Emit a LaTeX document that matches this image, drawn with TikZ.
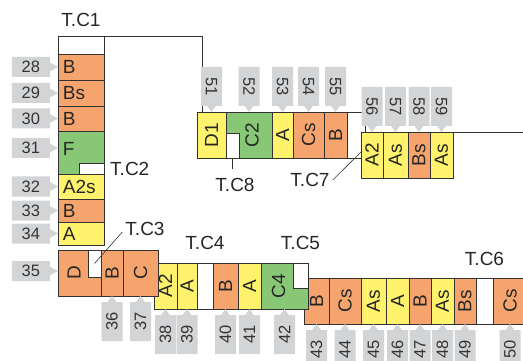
\documentclass[tikz,border=0pt]{standalone}
\usepackage{fontspec}
\setmainfont{Liberation Sans}
\usetikzlibrary{positioning, shapes.callouts}

\definecolor{cellor}{RGB}{245,164,110}
\definecolor{cellye}{RGB}{255,242,108}
\definecolor{cellgr}{RGB}{136,199,118}
\definecolor{taggray}{RGB}{211,212,214}
\definecolor{edge}{RGB}{50,50,50}

\newcommand{\up}[1]{\rotatebox{90}{#1}}
\newcommand{\dn}[1]{\rotatebox{-90}{#1}}

\begin{document}
\begin{tikzpicture}[x=1pt, y=-1pt,
	box/.style={draw=edge, line width=0.8pt, inner sep=0pt, outer sep=0pt, minimum height=46pt, text=black!85, font=\fontsize{19}{22}\selectfont},
	lbox/.style={box, minimum width=46pt, text width=36pt, inner xsep=5pt, align=left},
	ora/.style={fill=cellor},
	yel/.style={fill=cellye},
	grn/.style={fill=cellgr},
	blank/.style={fill=white},
	tag/.style={rectangle callout, fill=taggray, inner sep=0pt, callout pointer width=9pt, text=black!80, font=\fontsize{16.5}{19}\selectfont},
	ltag/.style={tag, minimum width=38pt, minimum height=20pt, left=8pt of #1, callout absolute pointer={(#1.west)}},
	btag/.style={tag, minimum width=21pt, minimum height=39pt, below=6pt of #1, callout absolute pointer={(#1.south)}},
	ttag/.style={tag, minimum width=21pt, minimum height=39pt, above=6pt of #1, callout absolute pointer={(#1.north)}},
	lbl/.style={inner sep=3pt, text=black!85, font=\fontsize{19}{22}\selectfont},
	wire/.style={draw=edge, line width=0.8pt},
	lead/.style={draw=edge, line width=0.6pt}]

	\useasboundingbox (0,0) rectangle (523,361);
	\clip (0,0) rectangle (523,361);

	% left column
	\node[lbox, minimum height=18pt, anchor=north west] (c0) at (58,36) {};
	\node[lbox, ora, minimum height=26pt, below=0pt of c0] (c28) {B};
	\node[lbox, ora, minimum height=26pt, below=0pt of c28] (c29) {Bs};
	\node[lbox, ora, minimum height=25pt, below=0pt of c29] (c30) {B};
	\node[lbox, grn, minimum height=43pt, text depth=7pt, below=0pt of c30] (c31) {F};
	\node[box, blank, minimum width=25pt, minimum height=11pt, anchor=south east] (n2) at (c31.south east) {};
	\node[lbox, yel, minimum height=25pt, below=0pt of c31] (c32) {A2s};
	\node[lbox, ora, minimum height=23pt, below=0pt of c32] (c33) {B};
	\node[lbox, yel, minimum height=23pt, below=0pt of c33] (c34) {A};

	% lower right row
	\node[box, ora, minimum width=25pt, anchor=north west] (c43) at (304,278) {\up{B}};
	\node[box, ora, minimum width=32pt, right=0pt of c43] (c44) {\up{Cs}};
	\node[box, yel, minimum width=25pt, right=0pt of c44] (c45) {\up{As}};
	\node[box, yel, minimum width=23pt, right=0pt of c45] (c46) {\up{A}};
	\node[box, ora, minimum width=22pt, right=0pt of c46] (c47) {\up{B}};
	\node[box, yel, minimum width=23pt, right=0pt of c47] (c48) {\up{As}};
	\node[box, ora, minimum width=22pt, right=0pt of c48] (c49) {\up{Bs}};
	\node[box, blank, minimum width=17pt, right=0pt of c49] (g6) {};
	\node[box, ora, minimum width=34pt, right=0pt of g6] (c50) {\up{Cs}};

	% middle row
	\node[box, yel, minimum width=23pt, anchor=north west] (c38) at (154,263) {\up{A2}};
	\node[box, yel, minimum width=20pt, right=0pt of c38] (c39) {\up{A}};
	\node[box, blank, minimum width=16pt, right=0pt of c39] (g4) {};
	\node[box, ora, minimum width=25pt, right=0pt of g4] (c40) {\up{B}};
	\node[box, yel, minimum width=23pt, right=0pt of c40] (c41) {\up{A}};
	\node[box, grn, minimum width=47pt, right=0pt of c41] (c42) {\up{C4}\hspace*{12pt}};
	\node[box, blank, minimum width=15pt, minimum height=25pt, anchor=north east] (n5) at (c42.north east) {};

	% lower left row
	\node[box, ora, minimum width=43pt, anchor=north west] (c35) at (58,250) {\up{D}\hspace*{11pt}};
	\node[box, blank, minimum width=13pt, minimum height=27pt, anchor=north east] (n3) at (c35.north east) {};
	\node[box, ora, minimum width=22pt, right=0pt of c35] (c36) {\up{B}};
	\node[box, ora, minimum width=35pt, right=0pt of c36] (c37) {\up{C}};

	% upper rows
	\node[box, yel, minimum width=29pt, anchor=north west] (c51) at (197,112) {\up{D1}};
	\node[box, grn, minimum width=46pt, right=0pt of c51] (c52) {\hspace*{6pt}\up{C2}};
	\node[box, blank, minimum width=13pt, minimum height=25pt, anchor=south west] (n8) at (c52.south west) {};
	\node[box, yel, minimum width=21pt, right=0pt of c52] (c53) {\up{A}};
	\node[box, ora, minimum width=31pt, right=0pt of c53] (c54) {\up{Cs}};
	\node[box, ora, minimum width=23pt, right=0pt of c54] (c55) {\up{B}};

	\node[box, yel, minimum width=22pt, anchor=north west] (c56) at (361,132) {\up{A2}};
	\node[box, yel, minimum width=25pt, right=0pt of c56] (c57) {\up{As}};
	\node[box, ora, minimum width=22pt, right=0pt of c57] (c58) {\up{Bs}};
	\node[box, yel, minimum width=23pt, right=0pt of c58] (c59) {\up{As}};

	% connecting lines
	\coordinate (rim) at (530,0);
	\draw[wire] (c0.north east) -| ([xshift=5pt]c51.north west);
	\draw[wire] (c55.north east) -| ([xshift=4pt]c56.north west);
	\draw[wire] (c55.south east) -- (c56.west |- c55.south east);
	\draw[wire] (c59.north east) -- (c59.north east -| rim);

	% number tags
	\node[ltag=c28] (t28) {28};
	\node[ltag=c29] (t29) {29};
	\node[ltag=c30] (t30) {30};
	\node[ltag=c31, yshift=4.5pt, callout absolute pointer={([yshift=4.5pt]c31.west)}] (t31) {31};
	\node[ltag=c32] (t32) {32};
	\node[ltag=c33] (t33) {33};
	\node[ltag=c34] (t34) {34};
	\node[ltag=c35, yshift=2pt, callout absolute pointer={([yshift=2pt]c35.west)}] (t35) {35};

	\node[btag=c36] (t36) {\up{36}};
	\node[btag=c37] (t37) {\up{37}};
	\node[btag=c38] (t38) {\up{38}};
	\node[btag=c39] (t39) {\up{39}};
	\node[btag=c40] (t40) {\up{40}};
	\node[btag=c41] (t41) {\up{41}};
	\node[btag=c42] (t42) {\up{42}};
	\node[btag=c43] (t43) {\up{43}};
	\node[btag=c44] (t44) {\up{44}};
	\node[btag=c45] (t45) {\up{45}};
	\node[btag=c46] (t46) {\up{46}};
	\node[btag=c47] (t47) {\up{47}};
	\node[btag=c48] (t48) {\up{48}};
	\node[btag=c49] (t49) {\up{49}};
	\node[btag=c50] (t50) {\up{50}};

	\node[ttag=c51] (t51) {\dn{51}};
	\node[ttag=c52] (t52) {\dn{52}};
	\node[ttag=c53] (t53) {\dn{53}};
	\node[ttag=c54] (t54) {\dn{54}};
	\node[ttag=c55] (t55) {\dn{55}};
	\node[ttag=c56] (t56) {\dn{56}};
	\node[ttag=c57] (t57) {\dn{57}};
	\node[ttag=c58] (t58) {\dn{58}};
	\node[ttag=c59] (t59) {\dn{59}};

	% T.C labels
	\node[lbl, above=6pt of c0] (tc1) {T.C1};
	\node[lbl, right=3pt of n2] (tc2) {T.C2};
	\node[lbl] (tc3) at (145,229) {T.C3};
	\node[lbl, above=10pt of g4] (tc4) {T.C4};
	\node[lbl, above=10pt of n5] (tc5) {T.C5};
	\node[lbl, above=9pt of g6] (tc6) {T.C6};
	\node[lbl] (tc7) at (310,180) {T.C7};
	\node[lbl] (tc8) at (235,185) {T.C8};

	\draw[lead] (n3.center) -- ([yshift=-3pt]tc3.west);
	\draw[lead] (tc7.east) -- ([yshift=3pt]c56.west);
	\draw[lead, shorten >=6pt] (n8.south) -- (n8.south |- tc8.north);

\end{tikzpicture}
\end{document}
